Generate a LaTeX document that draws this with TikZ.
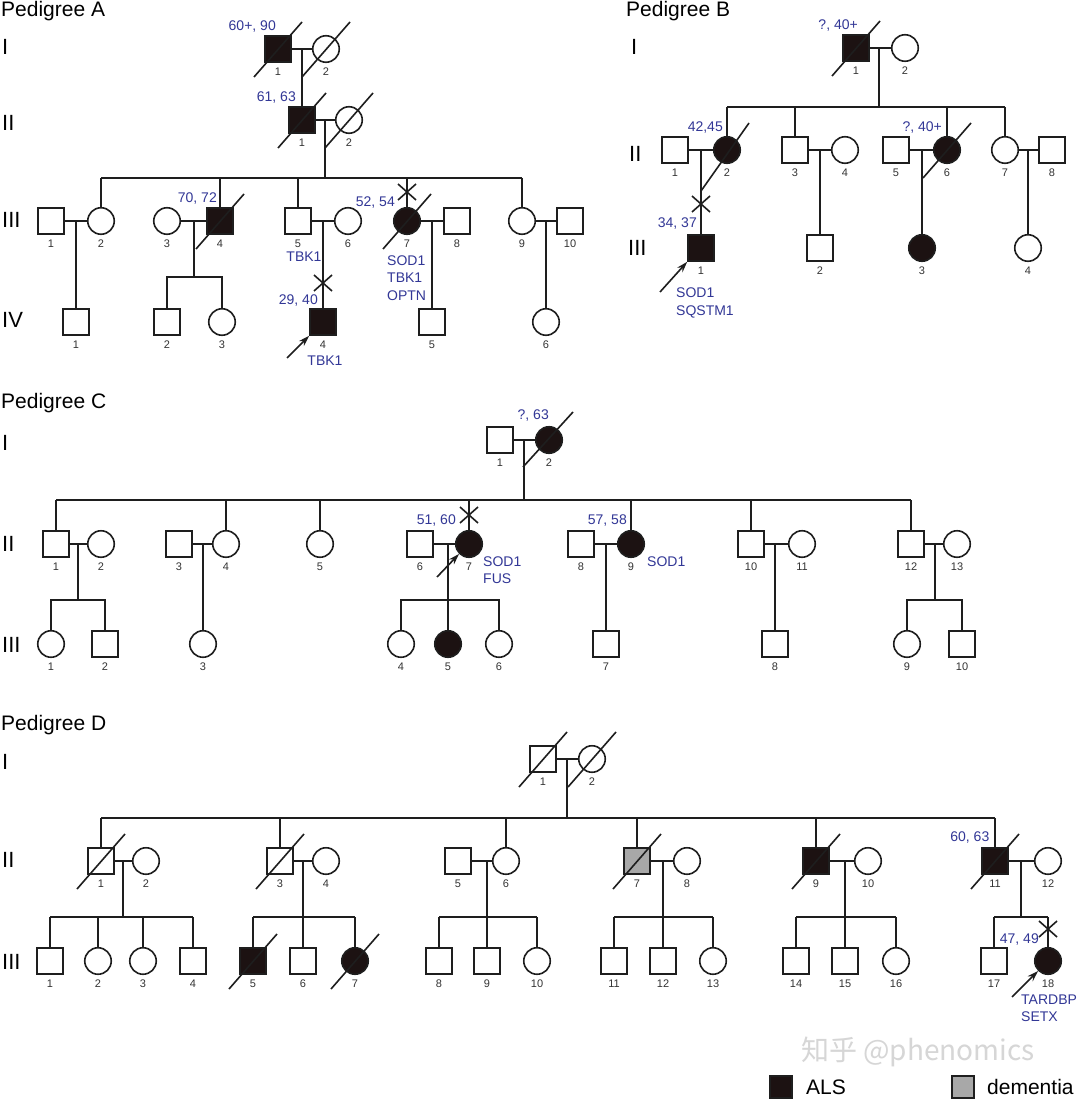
\documentclass[tikz,border=0pt]{standalone}
\usepackage{fontspec}
\setmainfont{Liberation Sans}
\newfontfamily\cjkfont{Noto Sans CJK SC}
\usetikzlibrary{arrows.meta,calc}
\definecolor{blu}{RGB}{50,55,150}
\definecolor{affc}{RGB}{28,18,18}
\definecolor{demc}{RGB}{168,168,168}
\definecolor{lnc}{RGB}{30,30,30}
\tikzset{
 male/.style={rectangle, draw=lnc, line width=1.6pt, minimum size=26pt, inner sep=0pt, fill=white},
 female/.style={circle, draw=lnc, line width=1.6pt, minimum size=26.5pt, inner sep=0pt, fill=white},
 aff/.style={fill=affc},
 dem/.style={fill=demc},
 num/.style={font=\fontsize{11}{11}\selectfont, text=black!80, inner sep=0pt},
 nr/.style={label={[num, label distance=4.5pt]below:#1}},
 age/.style={font=\fontsize{14}{17.5}\selectfont, text=blu, inner sep=0pt},
 gen/.style={font=\fontsize{22}{22}\selectfont, anchor=west, inner sep=0pt},
 ttl/.style={font=\fontsize{21}{21}\selectfont, anchor=west, inner sep=0pt},
 rel/.style={line width=1.6pt, draw=lnc},
 proband/.style={line width=1.6pt, draw=lnc, -{Stealth[length=11pt,width=7pt]}},
}
\newcommand\deadmark[1]{\draw[rel] ([shift={(-24,28)}]#1.center) -- ([shift={(24,-27)}]#1.center);}
\newcommand\crossmk[1]{\draw[rel] ([shift={(-9,-8)}]#1) -- ([shift={(9,8)}]#1) ([shift={(-9,8)}]#1) -- ([shift={(9,-8)}]#1);}
\begin{document}
\begin{tikzpicture}[x=1pt,y=-1pt]
\useasboundingbox (0,0) rectangle (1080,1099);
\fill[white] (0,0) rectangle (1080,1099);

%================ Pedigree A
\node[ttl] (tA) at (1,11) {Pedigree A};
\node[gen] (gAI) at (2,47) {I};
\node[gen] (gAII) at (2,123) {II};
\node[gen] (gAIII) at (2,220) {III};
\node[gen] (gAIV) at (2,320) {IV};

\node[male,aff,nr=1] (AI1) at (278,49) {};
\node[female,nr=2] (AI2) at (326,49) {};
\node[male,aff,nr=1] (AII1) at (302,120) {};
\node[female,nr=2] (AII2) at (349,120) {};
\node[male,nr=1] (AIII1) at (51,221) {};
\node[female,nr=2] (AIII2) at (101,221) {};
\node[female,nr=3] (AIII3) at (167,221) {};
\node[male,aff,nr=4] (AIII4) at (220,221) {};
\node[male,nr=5] (AIII5) at (298,221) {};
\node[female,nr=6] (AIII6) at (348,221) {};
\node[female,aff,nr=7] (AIII7) at (407,221) {};
\node[male,nr=8] (AIII8) at (457,221) {};
\node[female,nr=9] (AIII9) at (522,221) {};
\node[male,nr=10] (AIII10) at (570,221) {};
\node[male,nr=1] (AIV1) at (76,322) {};
\node[male,nr=2] (AIV2) at (167,322) {};
\node[female,nr=3] (AIV3) at (222,322) {};
\node[male,aff,nr=4] (AIV4) at (323,322) {};
\node[male,nr=5] (AIV5) at (432,322) {};
\node[female,nr=6] (AIV6) at (546,322) {};

\coordinate (AmI) at (302,49);
\draw[rel] (AI1.east) -- (AI2.west);
\draw[rel] (AmI) -- (AII1.north);
\draw[rel] (AII1.east) -- (AII2.west);
\coordinate (AmII) at (325,120);
\coordinate (AsIII) at (325,178);
\draw[rel] (AmII) -- (AsIII);
\draw[rel] (AIII2.north |- AsIII) -- (AIII9.north |- AsIII);
\foreach \c in {AIII2,AIII4,AIII5,AIII7,AIII9} \draw[rel] (\c.north |- AsIII) -- (\c.north);
\draw[rel] (AIII1.east) -- (AIII2.west);
\coordinate (Am12) at (76,221);
\draw[rel] (Am12) -- (AIV1.north);
\draw[rel] (AIII3.east) -- (AIII4.west);
\coordinate (Am34) at (194,221);
\coordinate (As34) at (194,277);
\draw[rel] (Am34) -- (As34);
\draw[rel] (AIV2.north) -- (AIV2.north |- As34) -- (AIV3.north |- As34) -- (AIV3.north);
\draw[rel] (AIII5.east) -- (AIII6.west);
\coordinate (Am56) at (323,221);
\draw[rel] (Am56) -- (AIV4.north);
\draw[rel] (AIII7.east) -- (AIII8.west);
\coordinate (Am78) at (432,221);
\draw[rel] (Am78) -- (AIV5.north);
\draw[rel] (AIII9.east) -- (AIII10.west);
\coordinate (Am910) at (546,221);
\draw[rel] (Am910) -- (AIV6.north);
\deadmark{AI1}\deadmark{AI2}\deadmark{AII1}\deadmark{AII2}\deadmark{AIII4}\deadmark{AIII7}
\coordinate (AX1) at (323,283); \crossmk{AX1}
\coordinate (AX2) at (407,192); \crossmk{AX2}
\coordinate (Apa) at (287,358);
\draw[proband] (Apa) -- (AIV4.south west);
\node[age,anchor=east] (AtI1) at (276,27) {60+, 90};
\node[age,anchor=east] (AtII1) at (296,98) {61, 63};
\node[age,anchor=east] (AtIII4) at (217,199) {70, 72};
\node[age] (AtIII5) at (304,257) {TBK1};
\node[age,anchor=east] (AtIV4) at (318,301) {29, 40};
\node[age] (AtIV4g) at (325,361) {TBK1};
\node[age,anchor=east] (AtIII7) at (395,203) {52, 54};
\node[age,anchor=west,align=left] (AtIII7g) at (387,278) {SOD1\\TBK1\\OPTN};

%================ Pedigree B
\node[ttl] (tB) at (626,11) {Pedigree B};
\node[gen] (gBI) at (631,47) {I};
\node[gen] (gBII) at (629,154) {II};
\node[gen] (gBIII) at (628,248) {III};

\node[male,aff,nr=1] (BI1) at (856,48) {};
\node[female,nr=2] (BI2) at (905,48) {};
\node[male,nr=1] (BII1) at (675,150) {};
\node[female,aff,nr=2] (BII2) at (727,150) {};
\node[male,nr=3] (BII3) at (795,150) {};
\node[female,nr=4] (BII4) at (845,150) {};
\node[male,nr=5] (BII5) at (896,150) {};
\node[female,aff,nr=6] (BII6) at (947,150) {};
\node[female,nr=7] (BII7) at (1005,150) {};
\node[male,nr=8] (BII8) at (1052,150) {};
\node[male,aff,nr=1] (BIII1) at (701,248) {};
\node[male,nr=2] (BIII2) at (820,248) {};
\node[female,aff,nr=3] (BIII3) at (922,248) {};
\node[female,nr=4] (BIII4) at (1028,248) {};

\draw[rel] (BI1.east) -- (BI2.west);
\coordinate (BmI) at (879,48);
\coordinate (BsII) at (879,107);
\draw[rel] (BmI) -- (BsII);
\draw[rel] (BII2.north |- BsII) -- (BII7.north |- BsII);
\foreach \c in {BII2,BII3,BII6,BII7} \draw[rel] (\c.north |- BsII) -- (\c.north);
\draw[rel] (BII1.east) -- (BII2.west);
\coordinate (Bm12) at (701,150);
\draw[rel] (Bm12) -- (BIII1.north);
\draw[rel] (BII3.east) -- (BII4.west);
\coordinate (Bm34) at (820,150);
\draw[rel] (Bm34) -- (BIII2.north);
\draw[rel] (BII5.east) -- (BII6.west);
\coordinate (Bm56) at (922,150);
\draw[rel] (Bm56) -- (BIII3.north);
\draw[rel] (BII7.east) -- (BII8.west);
\coordinate (Bm78) at (1028,150);
\draw[rel] (Bm78) -- (BIII4.north);
\deadmark{BI1}\deadmark{BII6}
\draw[rel] ([shift={(-26,41)}]BII2.center) -- ([shift={(22,-27)}]BII2.center);
\coordinate (BX1) at (701,204); \crossmk{BX1}
\coordinate (Bpa) at (660,292);
\draw[proband] (Bpa) -- (BIII1.south west);
\node[age,anchor=east] (BtI1) at (858,26) {?, 40+};
\node[age,anchor=east] (BtII2) at (723,128) {42,45};
\node[age,anchor=east] (BtII6) at (942,128) {?, 40+};
\node[age,anchor=east] (BtIII1) at (697,224) {34, 37};
\node[age,anchor=west,align=left] (BtIII1g) at (676,303) {SOD1\\SQSTM1};

%================ Pedigree C
\node[ttl] (tC) at (1,403) {Pedigree C};
\node[gen] (gCI) at (2,443) {I};
\node[gen] (gCII) at (2,544) {II};
\node[gen] (gCIII) at (2,645) {III};

\node[male,nr=1] (CI1) at (500,440) {};
\node[female,aff,nr=2] (CI2) at (549,440) {};
\node[male,nr=1] (CII1) at (56,544) {};
\node[female,nr=2] (CII2) at (101,544) {};
\node[male,nr=3] (CII3) at (179,544) {};
\node[female,nr=4] (CII4) at (226,544) {};
\node[female,nr=5] (CII5) at (320,544) {};
\node[male,nr=6] (CII6) at (420,544) {};
\node[female,aff,nr=7] (CII7) at (469,544) {};
\node[male,nr=8] (CII8) at (581,544) {};
\node[female,aff,nr=9] (CII9) at (631,544) {};
\node[male,nr=10] (CII10) at (751,544) {};
\node[female,nr=11] (CII11) at (802,544) {};
\node[male,nr=12] (CII12) at (911,544) {};
\node[female,nr=13] (CII13) at (957,544) {};
\node[female,nr=1] (CIII1) at (51,644) {};
\node[male,nr=2] (CIII2) at (105,644) {};
\node[female,nr=3] (CIII3) at (203,644) {};
\node[female,nr=4] (CIII4) at (401,644) {};
\node[female,aff,nr=5] (CIII5) at (448,644) {};
\node[female,nr=6] (CIII6) at (499,644) {};
\node[male,nr=7] (CIII7) at (606,644) {};
\node[male,nr=8] (CIII8) at (775,644) {};
\node[female,nr=9] (CIII9) at (907,644) {};
\node[male,nr=10] (CIII10) at (962,644) {};

\draw[rel] (CI1.east) -- (CI2.west);
\coordinate (CmI) at (524,440);
\coordinate (CsII) at (524,500);
\draw[rel] (CmI) -- (CsII);
\draw[rel] (CII1.north |- CsII) -- (CII12.north |- CsII);
\foreach \c in {CII1,CII4,CII5,CII7,CII9,CII10,CII12} \draw[rel] (\c.north |- CsII) -- (\c.north);
\draw[rel] (CII1.east) -- (CII2.west);
\coordinate (Cm12) at (78,544); \coordinate (Cs12) at (78,600);
\draw[rel] (Cm12) -- (Cs12);
\draw[rel] (CIII1.north) -- (CIII1.north |- Cs12) -- (CIII2.north |- Cs12) -- (CIII2.north);
\draw[rel] (CII3.east) -- (CII4.west);
\coordinate (Cm34) at (203,544);
\draw[rel] (Cm34) -- (CIII3.north);
\draw[rel] (CII6.east) -- (CII7.west);
\coordinate (Cm67) at (448,544); \coordinate (Cs67) at (448,600);
\draw[rel] (Cm67) -- (CIII5.north);
\draw[rel] (CIII4.north) -- (CIII4.north |- Cs67) -- (CIII6.north |- Cs67) -- (CIII6.north);
\draw[rel] (CII8.east) -- (CII9.west);
\coordinate (Cm89) at (606,544);
\draw[rel] (Cm89) -- (CIII7.north);
\draw[rel] (CII10.east) -- (CII11.west);
\coordinate (Cm1011) at (775,544);
\draw[rel] (Cm1011) -- (CIII8.north);
\draw[rel] (CII12.east) -- (CII13.west);
\coordinate (Cm1213) at (935,544); \coordinate (Cs1213) at (935,600);
\draw[rel] (Cm1213) -- (Cs1213);
\draw[rel] (CIII9.north) -- (CIII9.north |- Cs1213) -- (CIII10.north |- Cs1213) -- (CIII10.north);
\draw[rel] ([shift={(-26,27)}]CI2.center) -- ([shift={(24,-28)}]CI2.center);
\coordinate (CX1) at (469,515); \crossmk{CX1}
\coordinate (Cpa) at (437,577);
\draw[proband] (Cpa) -- (CII7.225);
\node[age,anchor=east] (CtI2) at (549,416) {?, 63};
\node[age,anchor=east] (CtII7) at (456,521) {51, 60};
\node[age,anchor=west,align=left] (CtII7g) at (483,570) {SOD1\\FUS};
\node[age,anchor=east] (CtII9) at (627,521) {57, 58};
\node[age,anchor=west] (CtII9g) at (647,562) {SOD1};

%================ Pedigree D
\node[ttl] (tD) at (1,725) {Pedigree D};
\node[gen] (gDI) at (2,762) {I};
\node[gen] (gDII) at (2,860) {II};
\node[gen] (gDIII) at (2,962) {III};

\node[male,nr=1] (DI1) at (543,759) {};
\node[female,nr=2] (DI2) at (592,759) {};
\node[male,nr=1] (DII1) at (101,861) {};
\node[female,nr=2] (DII2) at (146,861) {};
\node[male,nr=3] (DII3) at (280,861) {};
\node[female,nr=4] (DII4) at (326,861) {};
\node[male,nr=5] (DII5) at (458,861) {};
\node[female,nr=6] (DII6) at (506,861) {};
\node[male,dem,nr=7] (DII7) at (637,861) {};
\node[female,nr=8] (DII8) at (687,861) {};
\node[male,aff,nr=9] (DII9) at (816,861) {};
\node[female,nr=10] (DII10) at (868,861) {};
\node[male,aff,nr=11] (DII11) at (995,861) {};
\node[female,nr=12] (DII12) at (1048,861) {};
\node[male,nr=1] (DIII1) at (50,961) {};
\node[female,nr=2] (DIII2) at (98,961) {};
\node[female,nr=3] (DIII3) at (143,961) {};
\node[male,nr=4] (DIII4) at (193,961) {};
\node[male,aff,nr=5] (DIII5) at (253,961) {};
\node[male,nr=6] (DIII6) at (303,961) {};
\node[female,aff,nr=7] (DIII7) at (355,961) {};
\node[male,nr=8] (DIII8) at (439,961) {};
\node[male,nr=9] (DIII9) at (487,961) {};
\node[female,nr=10] (DIII10) at (537,961) {};
\node[male,nr=11] (DIII11) at (614,961) {};
\node[male,nr=12] (DIII12) at (663,961) {};
\node[female,nr=13] (DIII13) at (713,961) {};
\node[male,nr=14] (DIII14) at (796,961) {};
\node[male,nr=15] (DIII15) at (845,961) {};
\node[female,nr=16] (DIII16) at (896,961) {};
\node[male,nr=17] (DIII17) at (994,961) {};
\node[female,aff,nr=18] (DIII18) at (1048,961) {};

\draw[rel] (DI1.east) -- (DI2.west);
\coordinate (DmI) at (567,759); \coordinate (DsII) at (567,818);
\draw[rel] (DmI) -- (DsII);
\draw[rel] (DII1.north |- DsII) -- (DII11.north |- DsII);
\foreach \c in {DII1,DII3,DII6,DII7,DII9,DII11} \draw[rel] (\c.north |- DsII) -- (\c.north);
\draw[rel] (DII1.east) -- (DII2.west);
\coordinate (Dm12) at (123,861); \coordinate (Ds12) at (123,917);
\draw[rel] (Dm12) -- (Ds12);
\draw[rel] (DIII1.north |- Ds12) -- (DIII4.north |- Ds12);
\foreach \c in {DIII1,DIII2,DIII3,DIII4} \draw[rel] (\c.north |- Ds12) -- (\c.north);
\draw[rel] (DII3.east) -- (DII4.west);
\coordinate (Dm34) at (303,861); \coordinate (Ds34) at (303,917);
\draw[rel] (Dm34) -- (DIII6.north);
\draw[rel] (DIII5.north |- Ds34) -- (DIII7.north |- Ds34);
\foreach \c in {DIII5,DIII7} \draw[rel] (\c.north |- Ds34) -- (\c.north);
\draw[rel] (DII5.east) -- (DII6.west);
\coordinate (Dm56) at (487,861); \coordinate (Ds56) at (487,917);
\draw[rel] (Dm56) -- (DIII9.north);
\draw[rel] (DIII8.north |- Ds56) -- (DIII10.north |- Ds56);
\foreach \c in {DIII8,DIII10} \draw[rel] (\c.north |- Ds56) -- (\c.north);
\draw[rel] (DII7.east) -- (DII8.west);
\coordinate (Dm78) at (663,861); \coordinate (Ds78) at (663,917);
\draw[rel] (Dm78) -- (DIII12.north);
\draw[rel] (DIII11.north |- Ds78) -- (DIII13.north |- Ds78);
\foreach \c in {DIII11,DIII13} \draw[rel] (\c.north |- Ds78) -- (\c.north);
\draw[rel] (DII9.east) -- (DII10.west);
\coordinate (Dm910) at (845,861); \coordinate (Ds910) at (845,917);
\draw[rel] (Dm910) -- (DIII15.north);
\draw[rel] (DIII14.north |- Ds910) -- (DIII16.north |- Ds910);
\foreach \c in {DIII14,DIII16} \draw[rel] (\c.north |- Ds910) -- (\c.north);
\draw[rel] (DII11.east) -- (DII12.west);
\coordinate (Dm1112) at (1021,861); \coordinate (Ds1112) at (1021,917);
\draw[rel] (Dm1112) -- (Ds1112);
\draw[rel] (DIII17.north |- Ds1112) -- (DIII18.north |- Ds1112);
\foreach \c in {DIII17,DIII18} \draw[rel] (\c.north |- Ds1112) -- (\c.north);
\deadmark{DI1}\deadmark{DI2}\deadmark{DII1}\deadmark{DII3}\deadmark{DII7}\deadmark{DII9}\deadmark{DII11}\deadmark{DIII5}\deadmark{DIII7}
\coordinate (DX1) at (1048,929); \crossmk{DX1}
\coordinate (Dpa) at (1012,997);
\draw[proband] (Dpa) -- (DIII18.225);
\node[age,anchor=east] (DtII11) at (989.5,837) {60, 63};
\node[age,anchor=east] (DtIII18) at (1039,939) {47, 49};
\node[age,anchor=west,align=left] (DtIII18g) at (1021,1008) {TARDBP\\SETX};

%================ watermark and legend
\node[font=\cjkfont\fontsize{28}{28}\selectfont, text=black!16, inner sep=0pt] (wm) at (918,1052) {知乎 @phenomics};
\node[male,aff,minimum size=22pt] (legA) at (781,1087) {};
\node[anchor=west, inner sep=0pt, font=\fontsize{21}{21}\selectfont] (legAt) at (806,1087) {ALS};
\node[male,dem,minimum size=22pt] (legD) at (963,1087) {};
\node[anchor=west, inner sep=0pt, font=\fontsize{21}{21}\selectfont] (legDt) at (987,1087) {dementia};
\end{tikzpicture}
\end{document}
